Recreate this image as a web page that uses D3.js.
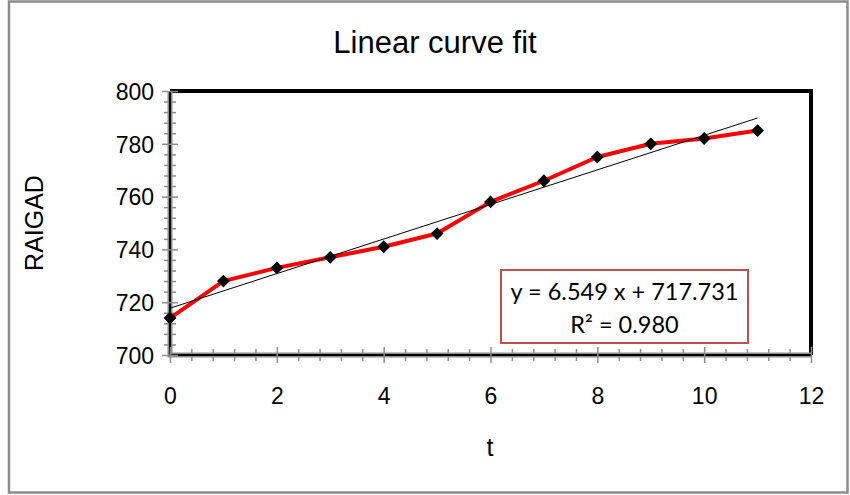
<!DOCTYPE html>
<html>
<head>
<meta charset="utf-8">
<script src="https://cdn.jsdelivr.net/npm/d3@7"></script>
<style>
  html, body { margin: 0; padding: 0; background: #fff; }
  svg { display: block; }
</style>
</head>
<body>
<svg id="chart" width="850" height="495"></svg>
<script>
// ---- data ----
const tValues = [0, 1, 2, 3, 4, 5, 6, 7, 8, 9, 10, 11];
const raigad = [714, 728, 733, 737, 741, 746, 758, 766, 775, 780, 782, 785];
const xTicks = [0, 2, 4, 6, 8, 10, 12];
const yTicks = [700, 720, 740, 760, 780, 800];
const titleText = "Linear curve fit";
const xLabel = "t";
const yLabel = "RAIGAD";

// least squares fit from the data
const mx = d3.mean(tValues), my = d3.mean(raigad);
const sxy = d3.sum(tValues, (t, i) => (t - mx) * (raigad[i] - my));
const sxx = d3.sum(tValues, t => (t - mx) * (t - mx));
const syy = d3.sum(raigad, v => (v - my) * (v - my));
const slope = sxy / sxx;
const intercept = my - slope * mx;
const r2 = (sxy * sxy) / (sxx * syy);

const svg = d3.select("#chart");
const pL = 170, pR = 811, pT = 91, pB = 355;
const FONT = "Liberation Sans, Arial, sans-serif";

const x = d3.scaleLinear().domain([0, 12]).range([pL, pR]);
const y = d3.scaleLinear().domain([700, 800]).range([pB, pT]);

// outer chart border
svg.append("rect").attr("x", 9).attr("y", 1.5).attr("width", 838.5).attr("height", 491)
  .attr("fill", "#fff").attr("stroke", "#8c8c8c").attr("stroke-width", 2.5);

// title
svg.append("text").attr("x", 435).attr("y", 53).attr("text-anchor", "middle")
  .attr("font-family", FONT).attr("font-size", 31)
  .attr("fill", "#000").text(titleText);

// plot area border (top & right thick black)
svg.append("path")
  .attr("d", `M${pL},${pT}H${pR}V${pB}`)
  .attr("fill", "none").attr("stroke", "#000").attr("stroke-width", 4);

// minor ticks
const xMinor = d3.range(0, 12.0001, 0.4).map(v => +v.toFixed(1)).filter(v => !xTicks.includes(v));
const yMinor = d3.range(700, 800.001, 4).filter(v => !yTicks.includes(v));

const gxMinor = svg.append("g").attr("transform", `translate(0,${pB})`)
  .call(d3.axisBottom(x).tickValues(xMinor).tickSize(6).tickFormat(""));
gxMinor.select(".domain").remove();
gxMinor.selectAll(".tick line").attr("y1", -6).attr("y2", 6).attr("stroke", "#8c8c8c").attr("stroke-width", 1.5);

const gyMinor = svg.append("g").attr("transform", `translate(${pL},0)`)
  .call(d3.axisLeft(y).tickValues(yMinor).tickSize(6).tickFormat(""));
gyMinor.select(".domain").remove();
gyMinor.selectAll(".tick line").attr("x1", -6).attr("x2", 6).attr("stroke", "#8c8c8c").attr("stroke-width", 1.5);

// axis lines (grey with black center)
svg.append("path").attr("d", `M${pL},${pT}V${pB}H${pR}`)
  .attr("fill", "none").attr("stroke", "#8c8c8c").attr("stroke-width", 5);
svg.append("path").attr("d", `M${pL},${pT}V${pB}H${pR}`)
  .attr("fill", "none").attr("stroke", "#000").attr("stroke-width", 1.8);

// major ticks + labels
const gx = svg.append("g").attr("transform", `translate(0,${pB})`)
  .call(d3.axisBottom(x).tickValues(xTicks).tickSize(8).tickPadding(0));
gx.select(".domain").remove();
gx.selectAll(".tick line").attr("y1", -8).attr("y2", 8).attr("stroke", "#8c8c8c").attr("stroke-width", 1.5);
gx.selectAll(".tick text").attr("y", 48.5).attr("dy", null)
  .attr("font-family", FONT).attr("font-size", 23).attr("fill", "#000");

const gy = svg.append("g").attr("transform", `translate(${pL},0)`)
  .call(d3.axisLeft(y).tickValues(yTicks).tickSize(8));
gy.select(".domain").remove();
gy.selectAll(".tick line").attr("x1", -8).attr("x2", 8).attr("stroke", "#8c8c8c").attr("stroke-width", 1.5);
gy.selectAll(".tick text").attr("x", -16).attr("dy", "0.36em")
  .attr("font-family", FONT).attr("font-size", 23).attr("fill", "#000");

// axis titles
svg.append("text").attr("x", 490).attr("y", 456).attr("text-anchor", "middle")
  .attr("font-family", FONT).attr("font-size", 25).text(xLabel);
svg.append("text").attr("transform", `translate(43,${(pT + pB) / 2}) rotate(-90)`)
  .attr("text-anchor", "middle")
  .attr("font-family", FONT).attr("font-size", 25).text(yLabel);

// data line
const line = d3.line().x((d, i) => x(tValues[i])).y(d => y(d));
svg.append("path").datum(raigad).attr("d", line)
  .attr("fill", "none").attr("stroke", "#ff0000").attr("stroke-width", 4).attr("stroke-linejoin", "round");

// trend line
const t0 = d3.min(tValues), t1 = d3.max(tValues);
svg.append("line")
  .attr("x1", x(t0)).attr("y1", y(intercept + slope * t0))
  .attr("x2", x(t1)).attr("y2", y(intercept + slope * t1))
  .attr("stroke", "#000").attr("stroke-width", 1);

// markers
const diamond = d3.symbol().type(d3.symbolDiamond2).size(105);
svg.append("g").selectAll("path").data(raigad).join("path")
  .attr("transform", (d, i) => `translate(${x(tValues[i])},${y(d)})`)
  .attr("d", diamond).attr("fill", "#000");

// equation box
const bx = 501, by = 270, bw = 247, bh = 73;
svg.append("rect").attr("x", bx).attr("y", by).attr("width", bw).attr("height", bh)
  .attr("fill", "#fff").attr("stroke", "#c0504d").attr("stroke-width", 2);
svg.append("text").attr("x", bx + bw / 2).attr("y", by + 30).attr("text-anchor", "middle")
  .attr("font-family", "Lato, Carlito, Calibri, sans-serif").attr("font-size", 23.5)
  .text(`y = ${slope.toFixed(3)} x + ${intercept.toFixed(3)}`);
svg.append("text").attr("x", bx + bw / 2).attr("y", by + 63).attr("text-anchor", "middle")
  .attr("font-family", "Lato, Carlito, Calibri, sans-serif").attr("font-size", 23.5)
  .text(`R² = ${r2.toFixed(3)}`);
</script>
</body>
</html>
